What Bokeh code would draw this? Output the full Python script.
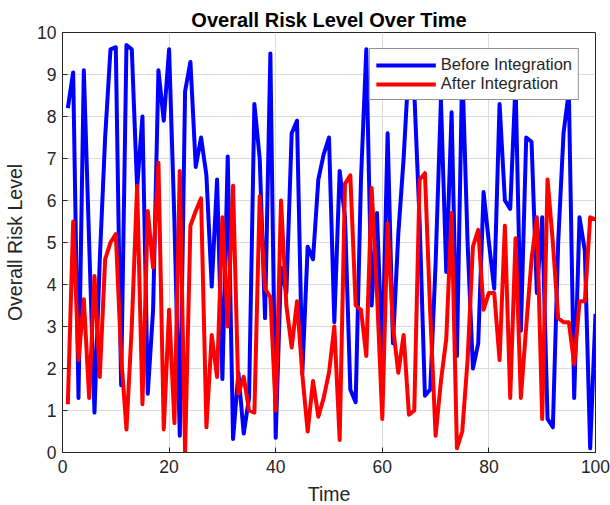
from bokeh.plotting import figure
from bokeh.models import Range1d, FixedTicker, Legend, LegendItem, ColumnDataSource
from bokeh.embed import file_html
from bokeh.resources import INLINE

time = list(range(1, 101))

before = [8.2, 9.05, 1.3, 9.1, 5.0, 0.95, 4.6, 7.5, 9.6, 9.65,
          1.6, 9.7, 9.6, 6.3, 8.0, 1.4, 3.4, 9.1, 7.9, 9.6,
          5.5, 0.4, 8.6, 9.3, 6.8, 7.5, 6.6, 3.95, 6.5, 1.75,
          7.05, 0.32, 1.9, 0.45, 1.3, 8.3, 7.0, 3.2, 9.5, 0.35,
          4.4, 3.8, 7.6, 7.9, 1.9, 4.9, 4.6, 6.5, 7.1, 7.5,
          3.1, 6.7, 5.6, 1.5, 1.2, 6.5, 9.6, 3.5, 5.7, 2.2,
          7.6, 2.6, 5.2, 7.0, 9.3, 8.6, 5.5, 1.35, 1.5, 4.5,
          8.4, 4.3, 8.1, 2.3, 9.2, 5.0, 2.0, 2.6, 6.2, 5.0,
          3.9, 8.3, 6.0, 5.8, 8.8, 2.9, 7.5, 7.4, 3.8, 5.6,
          0.8, 0.6, 5.0, 7.6, 8.6, 1.3, 5.6, 4.8, 0.1, 3.3]

after = [1.15, 5.5, 2.2, 3.65, 1.3, 4.2, 1.8, 4.6, 5.0, 5.2,
         2.3, 0.55, 3.0, 6.35, 1.15, 5.75, 4.4, 6.9, 0.55, 3.4,
         0.7, 6.7, 0.0, 5.4, 5.75, 6.05, 0.6, 2.8, 1.8, 5.6,
         3.0, 6.35, 1.4, 1.8, 1.0, 0.95, 6.1, 3.9, 3.7, 1.0,
         6.0, 3.5, 2.5, 3.6, 1.85, 0.5, 1.7, 0.85, 1.3, 1.9,
         3.0, 0.3, 6.4, 6.6, 3.5, 3.4, 2.3, 6.3, 3.8, 0.8,
         5.45, 3.0, 1.9, 2.8, 0.9, 1.0, 6.5, 6.65, 3.3, 0.4,
         1.7, 2.7, 5.7, 0.1, 0.5, 2.2, 4.9, 5.3, 3.4, 3.8,
         3.8, 2.2, 5.4, 1.3, 5.1, 1.3, 3.0, 4.6, 5.6, 0.8,
         6.5, 5.0, 3.2, 3.1, 3.1, 2.1, 3.6, 3.6, 5.6, 5.55]

x_ticks = [0, 20, 40, 60, 80, 100]
y_ticks = list(range(0, 11))

title_text = "Overall Risk Level Over Time"
x_label = "Time"
y_label = "Overall Risk Level"
series_names = ["Before Integration", "After Integration"]
colors = ["#0000ff", "#ff0000"]

FONT = "Liberation Sans"
TXT = "#262626"

p = figure(frame_width=533, frame_height=420,
           x_range=Range1d(0, 100), y_range=Range1d(0, 10),
           output_backend="svg", toolbar_location=None,
           min_border_left=62, min_border_right=15,
           min_border_top=32, min_border_bottom=53,
           background_fill_color="white", border_fill_color="white")

p.title.text = title_text
p.title.align = "center"
p.title.text_font = FONT
p.title.text_font_size = "20px"
p.title.text_font_style = "bold"
p.title.text_color = "black"
p.title.standoff = 4

src = ColumnDataSource(dict(t=time, before=before, after=after))
r1 = p.line("t", "before", source=src, line_color=colors[0], line_width=4, line_join="round")
r2 = p.line("t", "after", source=src, line_color=colors[1], line_width=4, line_join="round")

for ax in (p.xaxis[0], p.yaxis[0]):
    ax.major_tick_in = 5
    ax.major_tick_out = 0
    ax.minor_tick_line_color = None
    ax.axis_line_color = TXT
    ax.major_tick_line_color = TXT
    ax.major_label_text_font = FONT
    ax.major_label_text_font_size = "17.5px"
    ax.major_label_text_color = TXT
    ax.axis_label_text_font = FONT
    ax.axis_label_text_font_size = "19.5px"
    ax.axis_label_text_font_style = "normal"
    ax.axis_label_text_color = TXT

p.xaxis[0].ticker = FixedTicker(ticks=x_ticks)
p.yaxis[0].ticker = FixedTicker(ticks=y_ticks)
p.xaxis[0].axis_label = x_label
p.yaxis[0].axis_label = y_label
p.xaxis[0].major_label_standoff = 7
p.yaxis[0].major_label_standoff = 6
p.xaxis[0].axis_label_standoff = 7
p.yaxis[0].axis_label_standoff = 8

p.xgrid.ticker = FixedTicker(ticks=x_ticks)
p.ygrid.ticker = FixedTicker(ticks=y_ticks)
p.xgrid.grid_line_color = "#dcdcdc"
p.ygrid.grid_line_color = "#dcdcdc"
p.outline_line_color = TXT
p.outline_line_alpha = 1.0

legend = Legend(items=[LegendItem(label=series_names[0], renderers=[r1]),
                       LegendItem(label=series_names[1], renderers=[r2])],
                location="top_right")
legend.margin = 16
legend.padding = 6
legend.spacing = 0
legend.glyph_width = 60
legend.glyph_height = 16
legend.label_standoff = 5
legend.label_height = 16
legend.label_text_font = FONT
legend.label_text_font_size = "16.5px"
legend.label_text_line_height = 1.0
legend.label_text_color = TXT
legend.border_line_color = TXT
legend.border_line_width = 1
legend.background_fill_alpha = 1.0
p.add_layout(legend, "center")

open("out.html", "w").write(file_html(p, INLINE))
